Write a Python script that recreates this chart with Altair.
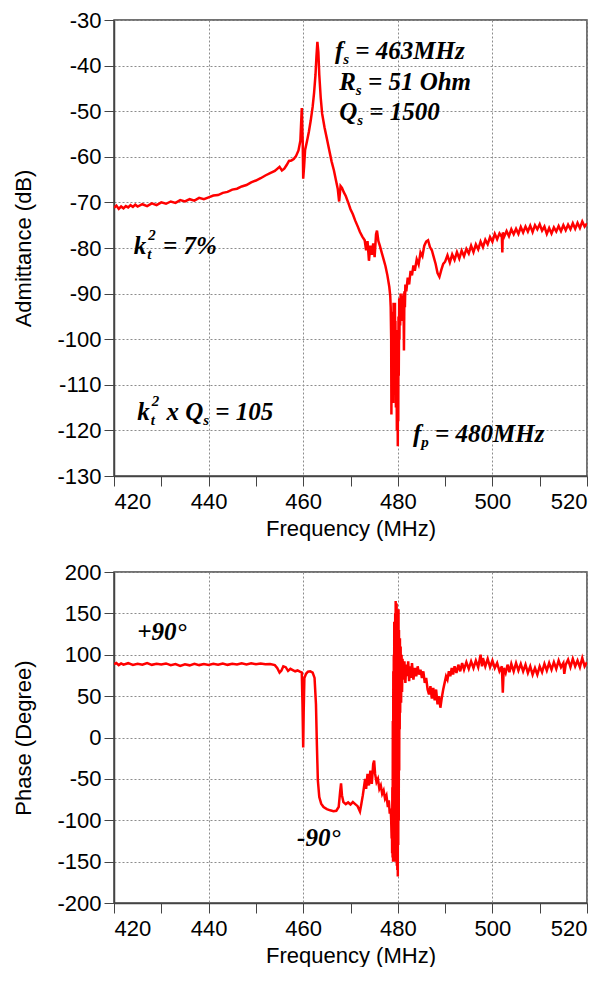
import altair as alt
import pandas as pd

# ---------------- data ----------------
FREQ_A = [
    420, 420.5, 421, 421.5, 422, 422.5, 423, 423.5, 424, 424.5, 425,
    426, 427, 428, 429, 430, 431, 432, 433, 434, 435, 436, 437, 438, 439, 440,
    441, 442, 443, 444, 445, 446, 447, 448, 449, 450, 451, 452, 453, 454,
    455, 455.5, 456, 456.5, 457, 457.5, 458, 458.5, 459, 459.4,
    459.7, 459.9, 460.0, 460.2, 460.4, 460.8, 461.2, 461.6, 462.0, 462.3,
    462.6, 462.8, 463.0, 463.2, 463.4, 463.7, 464.0, 464.5, 465, 465.5,
    466, 466.5, 467, 467.3, 467.6, 467.9, 468.2, 468.6, 469, 469.5,
    470, 470.5, 471, 471.5, 472, 472.5, 473, 473.3, 473.6, 473.9,
    474.2, 474.5, 474.8, 475.1, 475.4, 475.6, 475.9, 476.2, 476.6, 477,
    477.4, 477.8, 478.2, 478.4, 478.5, 478.6, 478.65, 478.7, 478.8, 478.85,
    478.9, 479.0, 479.05, 479.1, 479.2, 479.25, 479.3, 479.4, 479.45, 479.5,
    479.6, 479.7, 479.8, 479.9, 480.0, 480.05, 480.1, 480.15, 480.2, 480.3,
    480.35, 480.4, 480.5, 480.6, 480.7, 480.8, 480.9, 481.0, 481.1, 481.2,
    481.3, 481.4, 481.5, 481.6,
    481.8, 482.1, 482.4, 482.7, 483, 483.3, 483.6, 484, 484.4, 484.8,
    485.2, 485.6, 486, 486.4, 486.8, 487.2, 487.6, 488, 488.4, 488.8,
    489.2, 489.6,
    490, 490.5, 491, 491.5, 492, 492.5, 493, 493.5, 494, 494.5,
    495, 495.5, 496, 496.5, 497, 497.5, 498, 498.5, 499, 499.5,
    500, 500.5, 501, 501.5, 502, 502.1, 502.2, 502.5, 503, 503.5,
    504, 504.5, 505, 505.5, 506, 506.5, 507, 507.5, 508, 508.5,
    509, 509.5, 510, 510.5, 511, 511.5, 512, 512.5, 513, 513.5,
    514, 514.5, 515, 515.5, 516, 516.5, 517, 517.5, 518, 518.5,
    519, 519.5, 520,
]
ADMITTANCE_DB = [
    -71.2, -70.7, -71.4, -70.9, -71.3, -70.8, -71.1, -70.6, -71.0, -70.5, -70.9,
    -70.4, -70.8, -70.2, -70.6, -70.0, -70.3, -69.8, -70.1, -69.5, -69.8, -69.3, -69.6, -69.0, -69.3, -68.9,
    -68.5, -68.4, -67.9, -67.7, -67.2, -67.0, -66.5, -66.2, -65.6, -65.2, -64.7, -64.1, -63.6, -63.1,
    -62.2, -63.0, -62.6, -61.8, -60.9, -60.8, -60.5, -59.8, -58.6, -56.5,
    -49.3, -57.0, -64.8, -62.0, -58.5, -56.6, -54.5, -52.0, -49.0, -46.0,
    -42.0, -38.0, -34.8, -37.0, -42.0, -47.0, -50.5, -53.5, -56.0, -58.5,
    -61.0, -63.0, -65.5, -67.0, -69.8, -66.4, -66.8, -67.8, -68.6, -70.0,
    -71.5, -72.6, -74.0, -75.2, -76.5, -77.5, -78.3, -80.5, -78.5, -82.8,
    -79.5, -81.5, -79.0, -82.0, -77.0, -76.2, -78.5, -79.5, -81.0, -82.5,
    -84.0, -86.0, -88.5, -90.5, -93.0, -100.0, -116.5, -96.0, -112.0, -94.0,
    -106.0, -97.0, -114.0, -92.0, -110.0, -95.0, -104.0, -92.0, -108.0, -96.0,
    -115.0, -98.0, -120.0, -101.0, -123.5, -104.0, -118.0, -95.0, -108.0, -91.0,
    -100.0, -92.0, -97.0, -90.0, -96.0, -90.5, -95.0, -91.0, -96.0, -90.0,
    -102.5, -89.5, -93.0, -88.0,
    -89.5, -86.5, -88.0, -85.0, -86.0, -83.8, -85.0, -82.5, -83.6, -81.0,
    -81.8, -79.5, -78.6, -78.3, -79.8, -80.5, -82.0, -83.5, -85.5, -86.3,
    -84.8, -83.5,
    -83.0, -81.6, -83.2, -81.4, -82.6, -80.9, -82.3, -80.6, -81.8, -80.2,
    -81.2, -79.5, -80.9, -79.2, -80.3, -78.6, -79.8, -78.2, -79.2, -77.6,
    -78.6, -76.9, -78.1, -76.8, -77.6, -81.0, -76.6, -77.5, -76.3, -77.4,
    -75.9, -77.0, -75.8, -76.9, -75.4, -76.6, -75.3, -76.4, -75.1, -76.5,
    -75.0, -75.9, -74.8, -76.2, -75.3, -76.9, -75.6, -76.8, -75.5, -76.4,
    -75.2, -76.3, -75.0, -76.1, -74.9, -75.9, -74.6, -75.8, -74.5, -75.6,
    -74.2, -75.3, -74.6,
]

FREQ_P = [
    420, 420.5, 421, 421.5, 422, 423, 424, 425, 426, 427,
    428, 429, 430, 431, 432, 433, 434, 435, 436, 437,
    438, 439, 440, 441, 442, 443, 444, 445, 446, 447,
    448, 449, 450, 451, 452, 453, 454, 454.5, 455, 455.4,
    455.8, 456.3, 456.8, 457.3, 457.8, 458.3, 458.8, 459.3, 459.7, 459.85,
    460.0, 460.1, 460.25, 460.6, 461, 461.5, 462, 462.4, 462.7, 462.9,
    463.1, 463.4, 463.8, 464.3, 465, 465.7, 466.4, 467, 467.5, 467.8,
    468, 468.2, 468.5, 469, 469.5, 470, 470.5, 471, 471.5, 472,
    472.3, 472.6, 472.9, 473.1, 473.3, 473.6, 473.9, 474.2, 474.5, 474.8,
    475.0, 475.2, 475.5, 475.8, 476.1, 476.4, 476.7, 477, 477.3, 477.6,
    477.9, 478.1, 478.3, 478.5, 478.6, 478.7, 478.75, 478.8, 478.85, 478.9,
    478.95, 479.0, 479.05, 479.1, 479.15, 479.2, 479.25, 479.3, 479.35, 479.4,
    479.45, 479.5, 479.55, 479.6, 479.65, 479.7, 479.75, 479.8, 479.85, 479.9,
    479.95, 480.0, 480.05, 480.1, 480.15, 480.2, 480.25, 480.3, 480.35, 480.4,
    480.45, 480.5, 480.6, 480.7, 480.8, 480.9, 481,
    481.2, 481.4, 481.6, 481.8, 482, 482.2, 482.4, 482.6, 482.8, 483,
    483.3, 483.6, 483.9, 484.2, 484.5, 484.8, 485.1, 485.4, 485.7, 486,
    486.3, 486.6, 486.9, 487.2, 487.5, 487.8, 488.1, 488.4, 488.7, 489,
    489.3, 489.6, 489.9, 490.2, 490.5, 490.8, 491.1, 491.4, 491.7, 492,
    492.4, 492.8, 493.2, 493.6, 494, 494.5, 495, 495.5, 496, 496.5,
    497, 497.5, 497.8, 498, 498.5, 499, 499.5, 500, 500.5, 501,
    501.5, 502, 502.2, 502.4, 502.8, 503.2, 503.6, 504, 504.5, 505,
    505.5, 506, 506.5, 507, 507.5, 508, 508.5, 509, 509.5, 510,
    510.5, 511, 511.5, 512, 512.5, 513, 513.5, 514, 514.5, 515,
    515.2, 515.5, 516, 516.5, 517, 517.5, 518, 518.5, 519, 519.5,
    520,
]
PHASE_DEG = [
    88.5, 90.0, 87.5, 89.5, 88.0, 89.8, 87.6, 89.2, 88.0, 90.0,
    87.8, 89.0, 88.2, 89.5, 87.5, 88.8, 86.5, 88.5, 87.2, 89.0,
    87.5, 88.7, 87.6, 89.2, 88.0, 89.5, 87.8, 89.0, 88.2, 89.6,
    88.4, 89.8, 88.6, 89.5, 88.4, 88.8, 87.5, 84.0, 78.5, 81.0,
    86.0, 85.0, 80.5, 83.0, 81.5, 80.0, 81.0, 79.5, 78.5, 40.0,
    -12.0, 30.0, 72.0, 77.0, 79.5, 80.0, 78.5, 72.0, 40.0, -10.0,
    -52, -72, -80, -84, -86.5, -88, -89, -88.5, -84, -66,
    -55.5, -70, -78, -80.5, -78.5, -81, -78, -80.5, -83, -89.5,
    -80, -70, -58, -50, -62, -44, -58, -40, -56, -32,
    -28, -44, -54, -50, -62, -58, -68, -64, -74, -70,
    -84, -76, -92, -86, -100, -122, -95, -140, -60, -145,
    20, -150, 80, -140, 100, -120, 140, -150, 120, -100,
    150, -140, 165, -130, 160, -150, 162, -155, 150, -160,
    130, -168, 140, -130, 155, -100, 130, -40, 110, 10,
    120, 30, 110, 42, 100, 55, 95,
    70, 92, 66, 88, 74, 92, 68, 86, 72, 90,
    70, 84, 74, 86, 76, 82, 72, 80, 66, 72,
    58, 52, 62, 47, 60, 45, 58, 40, 50, 36,
    48, 58, 66, 74, 70, 80, 74, 84, 76, 86,
    78, 88, 80, 90, 82, 91, 83, 92, 84, 93,
    85, 100, 86, 96, 86, 95, 85, 93, 84, 90,
    80, 86, 54, 84, 78, 88, 79, 89, 80, 90,
    81, 89, 80, 88, 78, 86, 76, 84, 76, 86,
    79, 89, 81, 90, 82, 91, 83, 93, 85, 90,
    77, 88, 94, 85, 95, 86, 93, 85, 96, 86,
    91,
]

X_DOMAIN = [420, 520]
ADM_DOMAIN = [-130, -30]
PHASE_DOMAIN = [-200, 200]
X_TICKS = list(range(420, 521, 10))
ADM_TICKS = list(range(-130, -29, 5))
PHASE_TICKS = list(range(-200, 201, 50))

# annotations: segments of (text, kind) with kind n / sub / subsup ; position in data units
TOP_NOTES = [
    ([("f", "n"), ("s", "sub"), (" = 463MHz", "n")], 466.7, -36.7),
    ([("R", "n"), ("s", "sub"), (" = 51 Ohm", "n")], 467.6, -43.6),
    ([("Q", "n"), ("s", "sub"), (" = 1500", "n")], 467.6, -50.2),
    ([("k", "n"), ("t|2", "subsup"), (" = 7%", "n")], 424.2, -79.6),
    ([("k", "n"), ("t|2", "subsup"), (" x Q", "n"), ("s", "sub"), (" = 105", "n")], 424.9, -116.0),
    ([("f", "n"), ("p", "sub"), (" = 480MHz", "n")], 483.2, -120.7),
]
BOTTOM_NOTES = [
    ([("+90°", "n")], 424.9, 127.0),
    ([("-90°", "n")], 458.7, -121.7),
]

assert len(FREQ_A) == len(ADMITTANCE_DB)
assert len(FREQ_P) == len(PHASE_DEG)

# ---------------- helpers ----------------
W = {'f': .333, 'R': .667, 'Q': .722, 'k': .5, 's': .389, 't': .278, 'p': .5, ' ': .25,
     '=': .57, 'M': .889, 'H': .778, 'z': .389, 'O': .722, 'h': .556, 'm': .778, '%': .833,
     'x': .5, '+': .57, '-': .333, '°': .4}

MAIN_SIZE = 25
SMALL_SIZE = 15
SERIF = "Liberation Serif"


def text_width(txt, size):
    return sum(W.get(c, .5) for c in txt) * size


def note_layers(notes, xfield, yfield):
    layers = []
    for segs, xv, yv in notes:
        cursor = 0.0
        for txt, kind in segs:
            pieces = []
            if kind == "n":
                lead = len(txt) - len(txt.lstrip())
                body = txt.lstrip()
                pieces.append((body, MAIN_SIZE, cursor + lead * W[' '] * MAIN_SIZE, 0))
                adv = text_width(txt, MAIN_SIZE)
            elif kind == "sub":
                pieces.append((txt, SMALL_SIZE, cursor, 8))
                adv = text_width(txt, SMALL_SIZE)
            else:  # subsup
                sub, sup = txt.split("|")
                pieces.append((sub, SMALL_SIZE, cursor + 1, 8))
                pieces.append((sup, SMALL_SIZE, cursor + 2, -11))
                adv = max(text_width(sub, SMALL_SIZE), text_width(sup, SMALL_SIZE)) + 3
            for body, size, dx, dy in pieces:
                df = pd.DataFrame({xfield: [xv], yfield: [yv], "label": [body]})
                layers.append(
                    alt.Chart(df).mark_text(
                        align="left", baseline="middle", dx=dx, dy=dy,
                        font=SERIF, fontStyle="italic", fontWeight="bold",
                        fontSize=size, color="black",
                    ).encode(
                        x=alt.X(f"{xfield}:Q"),
                        y=alt.Y(f"{yfield}:Q"),
                        text="label:N",
                    )
                )
            cursor += adv
    return layers


def grid_if(step):
    return {"condition": {"test": f"datum.value % {step} === 0", "value": 1}, "value": 0}


x_axis = alt.Axis(
    values=X_TICKS,
    labelExpr="datum.value % 20 === 0 ? '' + datum.value : ''",
    title="Frequency (MHz)",
    gridOpacity=grid_if(20),
)

adm_df = pd.DataFrame({"freq": FREQ_A, "adm": ADMITTANCE_DB})
phase_df = pd.DataFrame({"freq": FREQ_P, "phase": PHASE_DEG})

top_line = alt.Chart(adm_df).mark_line(color="#ff0000", strokeWidth=2.5, clip=True).encode(
    x=alt.X("freq:Q", scale=alt.Scale(domain=X_DOMAIN, nice=False, zero=False), axis=x_axis),
    y=alt.Y("adm:Q", scale=alt.Scale(domain=ADM_DOMAIN, nice=False, zero=False),
            axis=alt.Axis(values=ADM_TICKS,
                          labelExpr="datum.value % 10 === 0 ? '' + datum.value : ''",
                          title="Admittance (dB)", gridOpacity=grid_if(10))),
)
top = alt.layer(top_line, *note_layers(TOP_NOTES, "freq", "adm")).properties(width=473, height=456)

bottom_line = alt.Chart(phase_df).mark_line(color="#ff0000", strokeWidth=2.5, clip=True).encode(
    x=alt.X("freq:Q", scale=alt.Scale(domain=X_DOMAIN, nice=False, zero=False), axis=x_axis),
    y=alt.Y("phase:Q", scale=alt.Scale(domain=PHASE_DOMAIN, nice=False, zero=False),
            axis=alt.Axis(values=PHASE_TICKS, labelExpr="'' + datum.value",
                          title="Phase (Degree)")),
)
bottom = alt.layer(bottom_line, *note_layers(BOTTOM_NOTES, "freq", "phase")).properties(width=473, height=331)

chart = alt.vconcat(top, bottom, spacing=20).properties(
    padding={"left": 4, "top": 0, "right": 0, "bottom": 0}
).configure_axis(
    labelFont="Liberation Sans", titleFont="Liberation Sans",
    labelFontSize=22, titleFontSize=22, titleFontWeight="normal",
    labelColor="black", titleColor="black",
    domainColor="#444444", domainWidth=1.5, tickColor="#444444", tickSize=10,
    gridColor="#8c8c8c", gridDash=[2, 2], gridWidth=1,
).configure_axisX(
    labelPadding=5, titlePadding=6,
).configure_axisY(
    labelPadding=3, titlePadding=21,
).configure_view(
    stroke="#444444", strokeWidth=1.5,
)

chart.save("out.html", embed_options={"renderer": "svg", "actions": False})
